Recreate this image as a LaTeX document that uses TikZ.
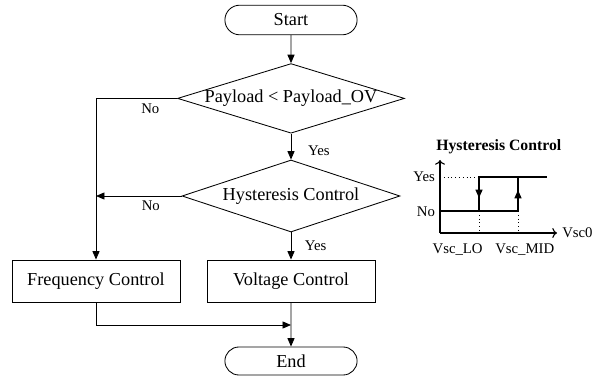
\documentclass[tikz,border=0pt]{standalone}
\usepackage{fontspec}
\setmainfont{Liberation Serif}
\usetikzlibrary{arrows.meta,shapes.geometric,shapes.misc,positioning}

\begin{document}
\begin{tikzpicture}[scale=1.0,line width=0.6pt,
  flow/.style={-{Triangle[length=6pt,width=5pt]}},
  term/.style={draw,rounded rectangle,minimum width=3.375cm,minimum height=0.74cm,inner sep=1pt,font=\fontsize{13}{15}\selectfont},
  decide/.style={draw,diamond,inner sep=0pt,font=\fontsize{13}{15}\selectfont},
  proc/.style={draw,rectangle,minimum width=4.2cm,minimum height=1.05cm,font=\fontsize{13}{15}\selectfont},
  lbl/.style={font=\fontsize{10.5}{12}\selectfont}]
  \useasboundingbox (0,0) rectangle (15.075,-9.475);
  % flowchart
  \node[term] (start) at (7.275,-0.5) {Start};
  \node[decide,aspect=3.26,minimum width=5.625cm,minimum height=1.725cm] (payload) at (7.275,-2.46) {Payload < Payload\_OV};
  \node[decide,aspect=3.03,minimum width=5.45cm,minimum height=1.8cm] (hyst) at (7.275,-4.9) {Hysteresis Control};
  \node[proc] (freq) at (2.4,-7.025) {Frequency Control};
  \node[proc] (volt) at (7.275,-7.025) {Voltage Control};
  \node[term,minimum height=0.7cm] (stop) at (7.275,-9.025) {End};
  \coordinate (merge) at (7.275,-8.125);

  \draw[flow] (start) -- (payload);
  \draw[flow] (payload) -- node[lbl,right=0.3cm,pos=0.65] (yes1) {Yes} (hyst);
  \draw[flow] (hyst) -- node[lbl,right=0.22cm,pos=0.5] (yes2) {Yes} (volt);
  \draw[flow] (payload.west) -| node[lbl,below,pos=0.165] (no1) {No} (freq.north);
  \draw[flow] (hyst.west) -- node[lbl,below,pos=0.36] (no2) {No} (hyst.west -| freq.north);
  \draw[flow] (freq.south) |- (merge);
  \draw[flow] (volt) -- (stop);

  % hysteresis inset
  \node[font=\fontsize{11.2}{13}\selectfont\bfseries] (htitle) at (12.47,-3.67) {Hysteresis Control};
  \draw[->,line width=0.8pt] (11,-5.825) -- (11,-4.0);
  \draw[->,line width=0.8pt] (11,-5.825) -- (13.925,-5.825) node[right,lbl] (vsc0) {Vsc0};
  \draw[dotted,line width=0.7pt] (11,-4.425) -- (11.975,-4.425);
  \draw[dotted,line width=0.7pt] (11.975,-5.275) -- (11.975,-5.825);
  \draw[dotted,line width=0.7pt] (12.95,-5.275) -- (12.95,-5.825);
  \draw[line width=1pt] (11.975,-5.275) -- (11.975,-4.425) -- (13.675,-4.425);
  \draw[line width=1pt] (11,-5.275) -- (12.95,-5.275) -- (12.95,-4.425);
  \draw[flow,line width=1pt] (11.975,-4.5) -- (11.975,-4.95);
  \draw[flow,line width=1pt] (12.95,-5.2) -- (12.95,-4.75);
  \node[lbl,left] (yeslvl) at (11,-4.425) {Yes};
  \node[lbl,left] (nolvl) at (11,-5.3) {No};
  \node[lbl] (vsclo) at (11.44,-6.23) {Vsc\_LO};
  \node[lbl] (vscmid) at (13.12,-6.23) {Vsc\_MID};
\end{tikzpicture}
\end{document}
